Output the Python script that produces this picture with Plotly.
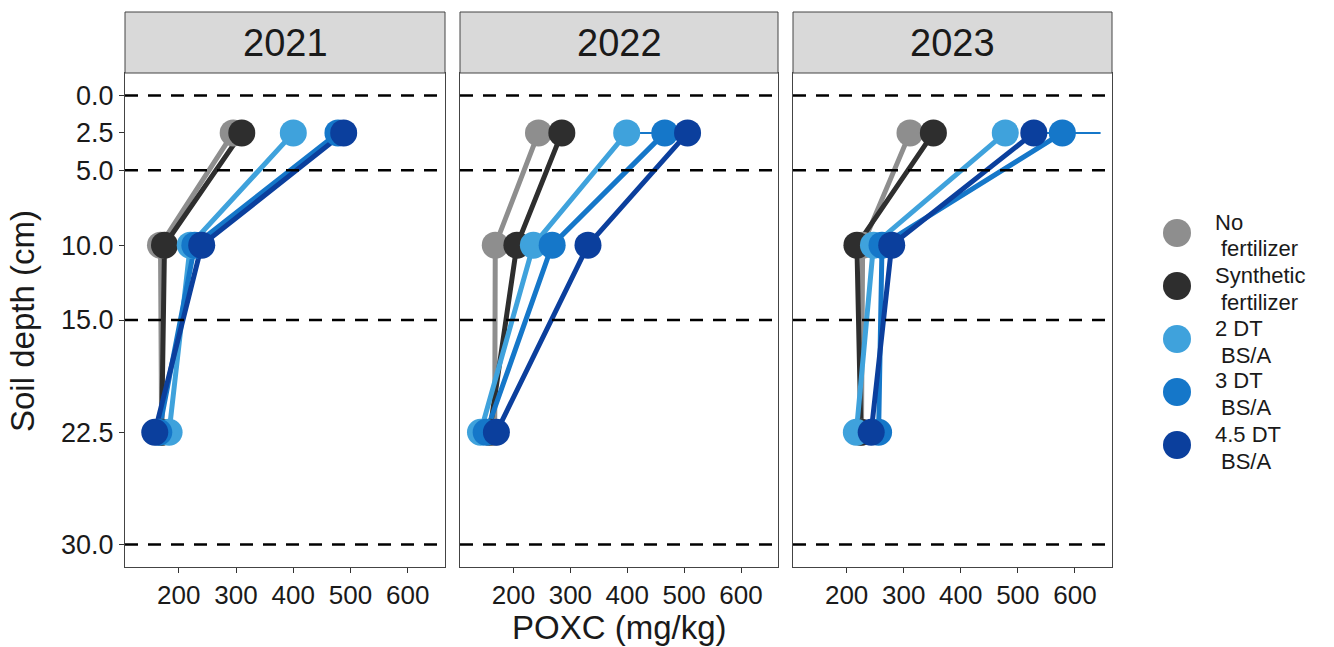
import plotly.graph_objects as go

# ---- data -------------------------------------------------------------
years = ["2021", "2022", "2023"]
depths = [2.5, 10.0, 22.5]
treatments = ["No fertilizer", "Synthetic fertilizer", "2 DT BS/A", "3 DT BS/A", "4.5 DT BS/A"]
legend_lines = [("No", "fertilizer"), ("Synthetic", "fertilizer"),
                ("2 DT", "BS/A"), ("3 DT", "BS/A"), ("4.5 DT", "BS/A")]
colors = ["#8e8e8e", "#2e2e2e", "#3fa2dc", "#1577c9", "#0b3f9d"]

# POXC (mg/kg) by year -> treatment, ordered by depth (2.5, 10, 22.5 cm)
poxc_2021 = {
    "No fertilizer": [295, 168, 170],
    "Synthetic fertilizer": [310, 175, 170],
    "2 DT BS/A": [400, 220, 183],
    "3 DT BS/A": [478, 228, 165],
    "4.5 DT BS/A": [488, 240, 158],
}
poxc_2022 = {
    "No fertilizer": [244, 168, 167],
    "Synthetic fertilizer": [285, 206, 158],
    "2 DT BS/A": [399, 235, 142],
    "3 DT BS/A": [466, 268, 152],
    "4.5 DT BS/A": [506, 331, 170],
}
poxc_2023 = {
    "No fertilizer": [311, 228, 226],
    "Synthetic fertilizer": [352, 218, 225],
    "2 DT BS/A": [478, 247, 217],
    "3 DT BS/A": [578, 262, 256],
    "4.5 DT BS/A": [528, 279, 243],
}
# standard errors (mg/kg)
se_2021 = {
    "No fertilizer": [12, 6, 5], "Synthetic fertilizer": [14, 7, 5],
    "2 DT BS/A": [15, 8, 6], "3 DT BS/A": [18, 9, 6], "4.5 DT BS/A": [16, 10, 5],
}
se_2022 = {
    "No fertilizer": [10, 6, 5], "Synthetic fertilizer": [12, 7, 5],
    "2 DT BS/A": [14, 8, 5], "3 DT BS/A": [52, 10, 6], "4.5 DT BS/A": [18, 12, 6],
}
se_2023 = {
    "No fertilizer": [12, 7, 5], "Synthetic fertilizer": [14, 7, 5],
    "2 DT BS/A": [16, 8, 6], "3 DT BS/A": [67, 9, 7], "4.5 DT BS/A": [20, 9, 6],
}
poxc = {"2021": poxc_2021, "2022": poxc_2022, "2023": poxc_2023}
se = {"2021": se_2021, "2022": se_2022, "2023": se_2023}

ref_depths = [0.0, 5.0, 15.0, 30.0]
y_ticks = [0.0, 2.5, 5.0, 10.0, 15.0, 22.5, 30.0]
x_ticks = [200, 300, 400, 500, 600]

# ---- layout geometry (pixels) -----------------------------------------
W, H = 1334, 647
panel_x = [(125, 445), (460, 778), (793, 1112)]
panel_top, panel_bottom = 73, 567
strip_top = 12
FONT = "Liberation Sans, Arial, Helvetica, sans-serif"
TEXT = "#1a1a1a"


def px_x(v):
    return v / W


def px_y(v):
    return 1 - v / H


fig = go.Figure()

for i, yr in enumerate(years):
    ax = "" if i == 0 else str(i + 1)
    xref, yref = "x" + ax, "y" + ax
    # error bars and connecting lines first, so every point sits above them
    for t, c in zip(treatments, colors):
        fig.add_trace(go.Scatter(
            x=poxc[yr][t], y=depths, mode="lines",
            line=dict(color=c, width=5), xaxis=xref, yaxis=yref,
            error_x=dict(type="data", array=se[yr][t], color=c, thickness=2, width=0),
            showlegend=False, hoverinfo="skip"))
    for t, c in zip(treatments, colors):
        fig.add_trace(go.Scatter(
            x=poxc[yr][t], y=depths, mode="markers", name=t,
            marker=dict(color=c, size=27, line=dict(width=0)),
            xaxis=xref, yaxis=yref, showlegend=False))

    x0, x1 = panel_x[i]
    dom = [px_x(x0), px_x(x1)]
    fig.layout["xaxis" + ax] = dict(
        domain=dom, range=[106, 665], anchor=yref, tickvals=x_ticks,
        ticks="outside", ticklen=5, tickcolor="#333", tickwidth=1,
        tickfont=dict(size=26, color=TEXT, family=FONT),
        showgrid=False, zeroline=False, showline=True, mirror=True,
        linecolor="#444", linewidth=1, automargin=False)
    fig.layout["yaxis" + ax] = dict(
        domain=[px_y(panel_bottom), px_y(panel_top)], range=[31.5, -1.5],
        anchor=xref, tickvals=y_ticks, ticktext=[f"{v:.1f}" for v in y_ticks],
        ticks="outside" if i == 0 else "", ticklen=5, tickcolor="#333",
        showticklabels=(i == 0),
        tickfont=dict(size=27, color=TEXT, family=FONT),
        showgrid=False, zeroline=False, showline=True, mirror=True,
        linecolor="#444", linewidth=1, automargin=False)

    # dashed reference depths
    for d in ref_depths:
        fig.add_shape(type="line", xref=xref + " domain", yref=yref,
                      x0=0, x1=1, y0=d, y1=d,
                      line=dict(color="black", width=2.5, dash="13px,10px"))

    # facet strip
    fig.add_shape(type="rect", xref="paper", yref="paper",
                  x0=px_x(x0), x1=px_x(x1), y0=px_y(panel_top), y1=px_y(strip_top),
                  fillcolor="#d9d9d9", line=dict(color="#444", width=1))
    fig.add_annotation(xref="paper", yref="paper", x=px_x((x0 + x1) / 2),
                       y=px_y((panel_top + strip_top) / 2), text=yr, showarrow=False,
                       font=dict(size=38, color=TEXT, family=FONT),
                       xanchor="center", yanchor="middle")

# axis titles
fig.add_annotation(xref="paper", yref="paper", x=px_x(619), y=px_y(627),
                   text="POXC (mg/kg)", showarrow=False,
                   font=dict(size=33, color=TEXT, family=FONT),
                   xanchor="center", yanchor="middle")
fig.add_annotation(xref="paper", yref="paper", x=px_x(22), y=px_y(321),
                   text="Soil depth (cm)", showarrow=False, textangle=-90,
                   font=dict(size=33, color=TEXT, family=FONT),
                   xanchor="center", yanchor="middle")

# legend keys: a filled circle and two lines of text per treatment
leg_cx, leg_r = 1177, 14
leg_y0, leg_step = 233, 53
for k, ((l1, l2), c) in enumerate(zip(legend_lines, colors)):
    cy = leg_y0 + k * leg_step
    fig.add_shape(type="circle", xref="paper", yref="paper",
                  x0=px_x(leg_cx - leg_r), x1=px_x(leg_cx + leg_r),
                  y0=px_y(cy + leg_r), y1=px_y(cy - leg_r),
                  fillcolor=c, line=dict(width=0))
    fig.add_annotation(xref="paper", yref="paper", x=px_x(1214), y=px_y(cy - 11),
                       text=l1, showarrow=False, xanchor="left", yanchor="middle",
                       borderpad=0, font=dict(size=22, color=TEXT, family=FONT))
    fig.add_annotation(xref="paper", yref="paper", x=px_x(1220), y=px_y(cy + 16),
                       text=l2, showarrow=False, xanchor="left", yanchor="middle",
                       borderpad=0, font=dict(size=22, color=TEXT, family=FONT))

fig.update_layout(
    width=W, height=H, template="none",
    margin=dict(l=0, r=0, t=0, b=0, pad=0),
    paper_bgcolor="white", plot_bgcolor="white",
    showlegend=False, font=dict(family=FONT),
)

fig.write_html("out.html")
